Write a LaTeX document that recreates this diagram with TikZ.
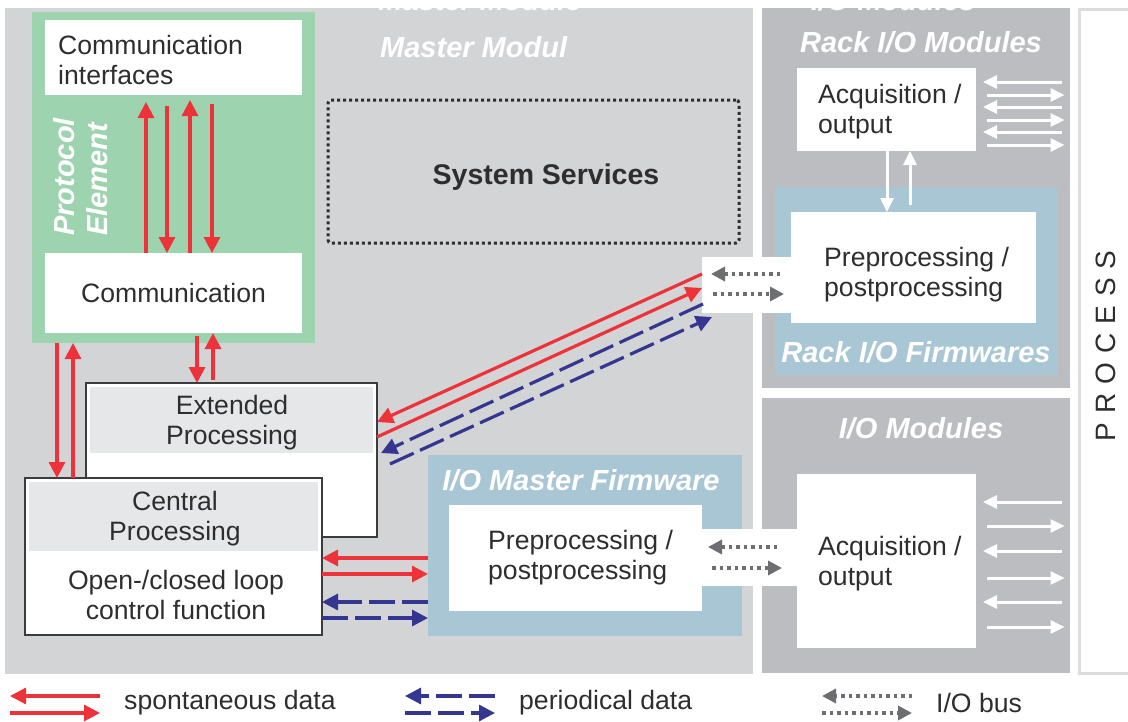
\documentclass[tikz,border=0pt]{standalone}
\usepackage{fontspec}
\setmainfont{Liberation Sans}
\usetikzlibrary{arrows.meta,calc}

\definecolor{spontred}{HTML}{EE3239}
\definecolor{periodblue}{HTML}{35368F}
\definecolor{busgray}{HTML}{6D6E71}
\definecolor{mastergray}{HTML}{D3D4D6}
\definecolor{modulegray}{HTML}{BCBDC0}
\definecolor{protocolgreen}{HTML}{9ED3B0}
\definecolor{firmwareblue}{HTML}{A8C6D4}
\definecolor{headergray}{HTML}{E6E7E8}
\definecolor{framegray}{HTML}{DCDDDF}
\definecolor{textgray}{HTML}{2E2E2E}
\definecolor{bordergray}{HTML}{3C3C3C}

\tikzset{
    block/.style 2 args={anchor=north west, inner sep=0pt, outer sep=0pt, minimum width=#1, minimum height=#2},
    procbox/.style={fill=white, draw=bordergray, line width=2pt},
    bodytext/.style={text=textgray, font=\fontsize{26.6}{30}\selectfont, align=center, inner sep=0pt},
    headtext/.style={text=white, font=\fontsize{29}{33}\selectfont\bfseries\itshape, align=center, inner sep=0pt},
    spont/.style={draw=spontred, line width=3.2pt, -{Triangle[length=16pt, width=16pt]}},
    period/.style={draw=periodblue, line width=3.2pt, dash pattern=on 26pt off 7pt, -{Triangle[length=16pt, width=16pt]}},
    iobus/.style={draw=busgray, line width=3.5pt, dash pattern=on 3.5pt off 4pt, -{Triangle[length=14pt, width=14pt]}},
    signal/.style={draw=white, line width=3pt, -{Triangle[length=14pt, width=13pt]}},
}

\begin{document}
\begin{tikzpicture}[x=1pt, y=-1pt]
    \useasboundingbox (0,0) rectangle (1128,721);

    \node[block={748pt}{666pt}, fill=mastergray] (master) at (5,8) {};
    \node[block={308pt}{380pt}, fill=modulegray] (rack) at (762,8) {};
    \node[block={308pt}{275pt}, fill=modulegray] (iomodules) at (762,398) {};
    \node[block={80pt}{664pt}, fill=white, draw=framegray, line width=3pt] (process) at (1079.5,9.5) {};
    \node[bodytext, rotate=90, font=\fontsize{28}{30}\selectfont] (processtext) at (1106,346)
        {P\kern9pt R\kern9pt O\kern9pt C\kern9pt E\kern9pt S\kern9pt S};

    \node[headtext, anchor=base] (mastercut) at (480,10) {Master Module};
    \node[headtext, anchor=base] (modulescut) at (893,10) {I/O Modules};

    \node[block={283pt}{331pt}, fill=protocolgreen] (protocol) at (32,12) {};
    \node[block={257pt}{75pt}, fill=white] (commif) at (45,20) {};
    \node[bodytext, anchor=west, align=left] (commiftext) at (58,60) {Communication\\interfaces};
    \node[block={257pt}{80pt}, fill=white, bodytext] (comm) at (45,253) {Communication};
    \node[headtext, rotate=90, align=left] (protocoltext) at (81,177) {Protocol\\Element};

    \node[headtext, anchor=west] (mastertitle) at (380,47) {Master Modul};
    \node[block={411pt}{143pt}, draw=textgray, line width=3pt, dash pattern=on 3pt off 3pt, rounded corners=3pt] (services) at (328,100) {};
    \node[bodytext, font=\fontsize{28.5}{32}\selectfont\bfseries] (servicestext) at (546,177) {System Services};

    \node[block={291pt}{154pt}, procbox] (extended) at (86,383) {};
    \node[block={283pt}{66pt}, fill=headergray] (extendedhead) at (90,387) {};
    \node[bodytext] (extendedtext) at (232,423) {Extended\\Processing};

    \node[block={297pt}{157pt}, procbox] (central) at (25,478) {};
    \node[block={289pt}{69pt}, fill=headergray] (centralhead) at (29,482) {};
    \node[bodytext] (centraltext) at (175,519) {Central\\Processing};
    \node[bodytext] (looptext) at (176,595) {Open-/closed loop\\control function};

    \node[block={314pt}{181pt}, fill=firmwareblue] (masterfw) at (428,455) {};
    \node[headtext] (masterfwtext) at (581,480) {I/O Master Firmware};
    \node[block={253pt}{106pt}, fill=white] (masterpre) at (449,505) {};
    \node[block={96pt}{57pt}, fill=white] (ioport) at (701,529) {};
    \node[bodytext, anchor=west, align=left] (masterpretext) at (488,558) {Preprocessing /\\postprocessing};

    \node[block={283pt}{188pt}, fill=firmwareblue] (rackfw) at (775,187) {};
    \node[headtext] (rackfwtext) at (916,352) {Rack I/O Firmwares};
    \node[block={245pt}{111pt}, fill=white] (rackpre) at (791,212) {};
    \node[block={89pt}{56pt}, fill=white] (rackport) at (702,257) {};
    \node[bodytext, anchor=west, align=left] (rackpretext) at (824,275) {Preprocessing /\\postprocessing};

    \node[headtext] (racktext) at (921,42) {Rack I/O Modules};
    \node[block={179pt}{83pt}, fill=white] (rackacq) at (797,68) {};
    \node[bodytext, anchor=west, align=left] (rackacqtext) at (818,112) {Acquisition /\\output};

    \node[headtext] (iomodulestext) at (921,428) {I/O Modules};
    \node[block={179pt}{174pt}, fill=white] (ioacq) at (797,474) {};
    \node[bodytext, anchor=west, align=left] (ioacqtext) at (818,564) {Acquisition /\\output};

    \draw[spont, shorten >=7pt] (comm.north -| 146,0) -- (commif.south -| 146,0);
    \draw[spont, shorten <=11pt] (commif.south -| 167,0) -- (comm.north -| 167,0);
    \draw[spont, shorten >=5pt] (comm.north -| 190,0) -- (commif.south -| 190,0);
    \draw[spont, shorten <=9pt] (commif.south -| 212,0) -- (comm.north -| 212,0);

    \draw[spont] (protocol.south -| 57,0) -- (central.north -| 57,0);
    \draw[spont] (central.north -| 73,0) -- (protocol.south -| 73,0);
    \draw[spont, shorten <=3pt] (comm.south -| 197,0) -- (extended.north -| 197,0);
    \draw[spont, shorten <=3pt] (extended.north -| 213,0) -- (comm.south -| 213,0);

    \draw[spont] (rackport.west |- 0,274) -- (extended.east |- 0,422);
    \draw[spont] (extended.east |- 0,437) -- (rackport.west |- 0,288);
    \draw[period] ($(rackport.west |- 0,304)+(1,0)$) -- ($(extended.east |- 0,453)+(4,0)$);
    \draw[period] ($(extended.east |- 0,464)+(13,0)$) -- ($(rackport.west |- 0,317)+(10,0)$);

    \draw[spont] (masterfw.west |- 0,558) -- (central.east |- 0,558);
    \draw[spont] (central.east |- 0,574) -- (masterfw.west |- 0,574);
    \draw[period] (masterfw.west |- 0,602) -- (central.east |- 0,602);
    \draw[period] (central.east |- 0,618) -- (masterfw.west |- 0,618);

    \draw[iobus, shorten <=11pt, shorten >=9pt] (rackport.east |- 0,274) -- (rackport.west |- 0,274);
    \draw[iobus, shorten <=11pt, shorten >=7pt] (rackport.west |- 0,294) -- (rackport.east |- 0,294);
    \draw[iobus, shorten <=20pt, shorten >=7pt] (ioport.east |- 0,547) -- (ioport.west |- 0,547);
    \draw[iobus, shorten <=11pt, shorten >=15pt] (ioport.west |- 0,568) -- (ioport.east |- 0,568);

    \draw[signal] (rackacq.south -| 887,0) -- (rackpre.north -| 887,0);
    \draw[signal, shorten <=7pt] (rackpre.north -| 910,0) -- (rackacq.south -| 910,0);

    \foreach \yl/\yr in {82/95, 107/120, 132/145} {
        \draw[signal, shorten <=18pt, shorten >=7pt] (process.west |- 0,\yl) -- (rackacq.east |- 0,\yl);
        \draw[signal, shorten <=11pt, shorten >=15pt] (rackacq.east |- 0,\yr) -- (process.west |- 0,\yr);
    }
    \foreach \yl/\yr in {502/526, 551/578, 602/627} {
        \draw[signal, shorten <=18pt, shorten >=7pt] (process.west |- 0,\yl) -- (ioacq.east |- 0,\yl);
        \draw[signal, shorten <=11pt, shorten >=15pt] (ioacq.east |- 0,\yr) -- (process.west |- 0,\yr);
    }

    \foreach \sty/\x/\txt [count=\i] in {spont/10/spontaneous data, period/405/periodical data, iobus/822/{I/O bus}} {
        \coordinate (legw\i) at (\x,696);
        \coordinate (lege\i) at (\x+90,696);
        \draw[\sty] (lege\i) -- (legw\i);
        \draw[\sty] (legw\i |- 0,713) -- (lege\i |- 0,713);
        \node[bodytext, anchor=west] (legtext\i) at (\x+114,703) {\txt};
    }
\end{tikzpicture}
\end{document}
